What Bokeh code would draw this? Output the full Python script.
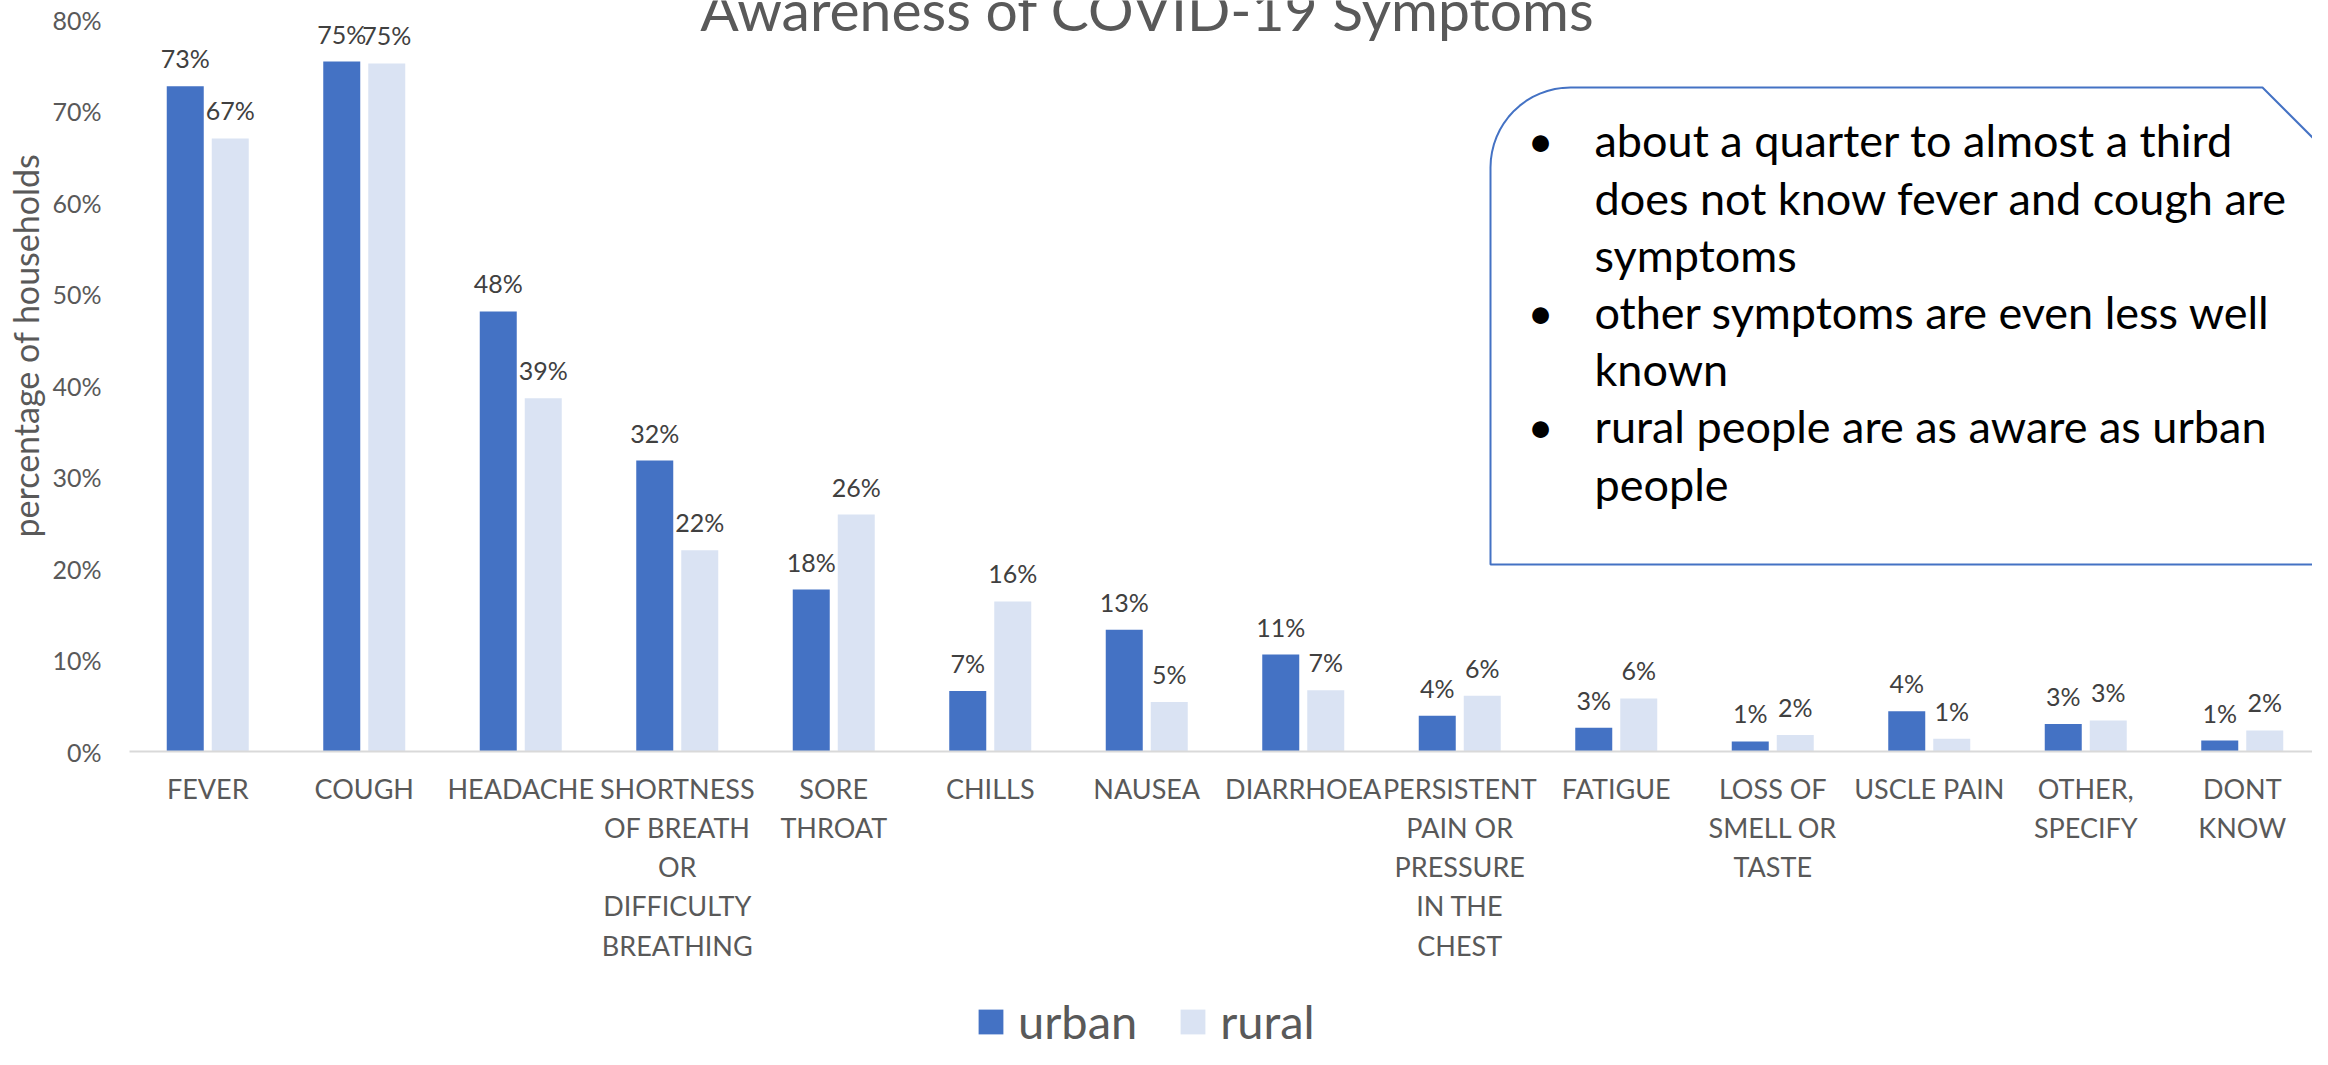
import math
from bokeh.plotting import figure
from bokeh.models import (ColumnDataSource, Range1d, Label, Legend, LegendItem,
                          PrintfTickFormatter, FixedTicker)
from bokeh.transform import dodge
from bokeh.embed import file_html
from bokeh.resources import INLINE
from bokeh.core.properties import value

# ---------------- data ----------------
categories = ["FEVER", "COUGH", "HEADACHE",
              "SHORTNESS\nOF BREATH\nOR\nDIFFICULTY\nBREATHING",
              "SORE\nTHROAT", "CHILLS", "NAUSEA", "DIARRHOEA",
              "PERSISTENT\nPAIN OR\nPRESSURE\nIN THE\nCHEST",
              "FATIGUE", "LOSS OF\nSMELL OR\nTASTE", "USCLE PAIN",
              "OTHER,\nSPECIFY", "DONT\nKNOW"]
urban = [72.7, 75.4, 48.1, 31.8, 17.7, 6.6, 13.3, 10.6, 3.9, 2.6, 1.1, 4.4, 3.0, 1.2]
rural = [67.0, 75.2, 38.6, 22.0, 25.9, 16.4, 5.4, 6.7, 6.1, 5.8, 1.8, 1.4, 3.4, 2.3]
y_ticks = [0, 10, 20, 30, 40, 50, 60, 70, 80]
series_names = ["urban", "rural"]
title_text = "Awareness of COVID-19 Symptoms"
y_title = "percentage of households"
callout_lines = [
    ("•", "about a quarter to almost a third"),
    ("", "does not know fever and cough are"),
    ("", "symptoms"),
    ("•", "other symptoms are even less well"),
    ("", "known"),
    ("•", "rural people are as aware as urban"),
    ("", "people"),
]

# ---------------- styles ----------------
FONT = "Lato"
C_URBAN = "#4472C4"
C_RURAL = "#DAE3F3"
C_TEXT = "#595959"
C_LABEL = "#404040"

W, H = 2312, 1049
X0_PX = 129          # pixel column where the first category starts
CAT_PX = 156.5       # pixel width of one category slot
ZERO_PX = 751        # pixel row of the 0% line
PX_PER_PCT = 9.15

xpos = [i + 0.5 for i in range(len(categories))]
src = ColumnDataSource(dict(
    x=xpos, urban=urban, rural=rural,
    urban_lbl=[f"{round(v)}%" for v in urban],
    rural_lbl=[f"{round(v)}%" for v in rural],
))

p = figure(width=W, height=H, title=None,
           x_range=Range1d(-X0_PX / CAT_PX, (W - X0_PX) / CAT_PX),
           y_range=Range1d(-(H - ZERO_PX) / PX_PER_PCT, ZERO_PX / PX_PER_PCT),
           min_border=0, output_backend="svg", toolbar_location=None)
p.outline_line_color = None
p.xgrid.visible = False
p.ygrid.visible = False

def sx(px):
    return (px - X0_PX) / CAT_PX
def sy(py):
    return (ZERO_PX - py) / PX_PER_PCT

BW = 37 / CAT_PX
OFF = 22.5 / CAT_PX

r_u = p.vbar(x=dodge("x", -OFF), top="urban", width=BW, source=src,
             fill_color=C_URBAN, line_color=None)
r_r = p.vbar(x=dodge("x", OFF), top="rural", width=BW, source=src,
             fill_color=C_RURAL, line_color=None)

for off, col in ((-OFF, "urban"), (OFF, "rural")):
    p.text(x=dodge("x", off), y=col, text=col + "_lbl", source=src,
           text_align="center", text_baseline="middle", y_offset=-28,
           text_font=value(FONT), text_font_size="25px", text_color=C_LABEL)

# axes (drawn at fixed positions inside the full-canvas frame)
p.yaxis.fixed_location = 0
p.yaxis.ticker = FixedTicker(ticks=y_ticks)
p.yaxis.formatter = PrintfTickFormatter(format="%d%%")
p.yaxis.axis_line_color = None
p.yaxis.major_tick_line_color = None
p.yaxis.minor_tick_line_color = None
p.yaxis.major_tick_out = 0
p.yaxis.minor_tick_out = 0
p.yaxis.major_label_standoff = 28
p.yaxis.major_label_text_font = FONT
p.yaxis.major_label_text_font_size = "25px"
p.yaxis.major_label_text_color = C_TEXT

p.xaxis.fixed_location = 0
p.xaxis.bounds = (0, len(categories))
p.xaxis.ticker = FixedTicker(ticks=xpos)
p.xaxis.major_label_overrides = {x: c for x, c in zip(xpos, categories)}
p.xaxis.axis_line_color = "#D9D9D9"
p.xaxis.axis_line_width = 2
p.xaxis.major_tick_line_color = None
p.xaxis.minor_tick_line_color = None
p.xaxis.major_tick_out = 0
p.xaxis.minor_tick_out = 0
p.xaxis.major_label_standoff = 20
p.xaxis.major_label_text_font = FONT
p.xaxis.major_label_text_font_size = "27px"
p.xaxis.major_label_text_color = C_TEXT
p.xaxis.major_label_text_line_height = 1.19
p.xaxis.major_label_orientation = "horizontal"

# y-axis title
p.add_layout(Label(x=sx(25), y=sy(345), text=y_title, angle=math.pi / 2,
                   text_align="center", text_baseline="middle", text_font=FONT,
                   text_font_size="34px", text_color=C_TEXT))

# title (clipped at the top edge as in the reference)
p.add_layout(Label(x=sx(1147), y=sy(32 - 0.27 * 57 - 8), text=title_text, text_align="center",
                   text_baseline="alphabetic", text_font=FONT, text_font_size="57px",
                   text_color=C_TEXT))

# callout box (rounded top-left corner, snipped top-right corner)
L, T, B, R, SN = 1490, 87, 564, 80, 2262
pts = [(L, B), (L, T + R)]
for i in range(1, 16):
    a = math.pi / 2 * i / 16
    pts.append((L + R - R * math.cos(a), T + R - R * math.sin(a)))
pts += [(L + R, T), (SN, T), (SN + 250, T + 250), (SN + 250, B)]
p.patch([sx(a) for a, b in pts], [sy(b) for a, b in pts], fill_color="white",
        line_color=C_URBAN, line_width=2)

FS = 45
base0, step = 152 - 0.27 * FS, 57.2
for i, (bullet, line) in enumerate(callout_lines):
    yb = sy(base0 + i * step)
    if bullet:
        p.add_layout(Label(x=sx(1540), y=yb, text=bullet, text_align="center",
                           text_baseline="alphabetic", text_font=FONT,
                           text_font_size=f"{FS}px", text_color="black"))
    p.add_layout(Label(x=sx(1594), y=yb, text=line, text_align="left",
                       text_baseline="alphabetic", text_font=FONT,
                       text_font_size=f"{FS}px", text_color="black"))

legend = Legend(items=[LegendItem(label=series_names[0], renderers=[r_u]),
                       LegendItem(label=series_names[1], renderers=[r_r])],
                orientation="horizontal", location=(975, 0),
                glyph_width=31, glyph_height=31, label_standoff=12, spacing=40,
                label_text_font=FONT, label_text_font_size="47px",
                label_text_color=C_TEXT, padding=0, margin=0,
                border_line_color=None, background_fill_alpha=0)
p.add_layout(legend)

open("out.html", "w").write(file_html(p, INLINE))
